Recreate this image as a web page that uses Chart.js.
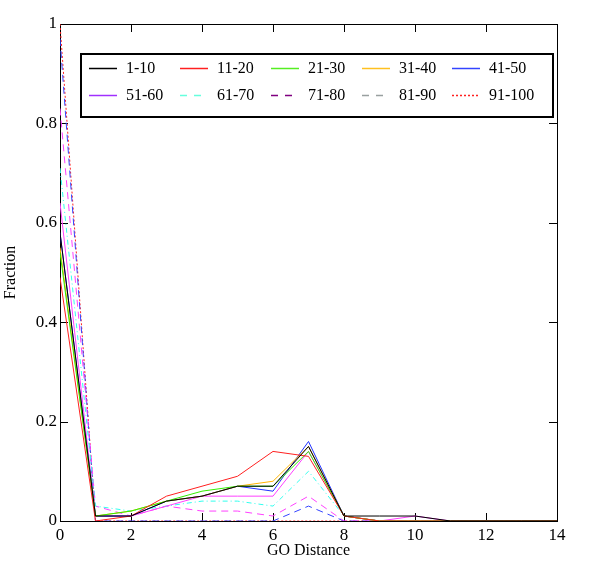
<!DOCTYPE html>
<html>
<head>
<meta charset="utf-8">
<script src="https://cdn.jsdelivr.net/npm/chart.js@4/dist/chart.umd.min.js"></script>
<style>
  html, body { margin: 0; padding: 0; background: #fff; }
</style>
</head>
<body>
<canvas id="goChart" width="600" height="573"></canvas>
<script>
var distances = [0, 1, 2, 3, 4, 5, 6, 7, 8, 9, 10, 11, 12, 13, 14];
var groupLabels = ["1-10", "11-20", "21-30", "31-40", "41-50", "51-60", "61-70", "71-80", "81-90", "91-100"];

var g1_10   = [0.58, 0.01, 0.01, 0.04, 0.05, 0.07, 0.07, 0.15, 0.01, 0.01, 0.01, 0, 0, 0, 0];
var g11_20  = [0.49, 0,    0.01, 0.05, 0.07, 0.09, 0.14, 0.13, 0.01, 0,    0,    0, 0, 0, 0];
var g21_30  = [0.54, 0.01, 0.02, 0.04, 0.06, 0.07, 0.07, 0.14, 0.01, 0,    0,    0, 0, 0, 0];
var g31_40  = [0.55, 0.01, 0.02, 0.04, 0.05, 0.07, 0.08, 0.15, 0.01, 0,    0,    0, 0, 0, 0];
var g41_50  = [0.58, 0.01, 0.01, 0.04, 0.05, 0.07, 0.06, 0.16, 0.01, 0,    0,    0, 0, 0, 0];
var g51_60  = [0.64, 0.01, 0.01, 0.03, 0.05, 0.05, 0.05, 0.14, 0.01, 0,    0.01, 0, 0, 0, 0];
var g61_70  = [0.71, 0.03, 0.02, 0.03, 0.04, 0.04, 0.03, 0.10, 0.01, 0,    0,    0, 0, 0, 0];
var g71_80  = [0.83, 0.03, 0.01, 0.03, 0.02, 0.02, 0.01, 0.05, 0,    0,    0,    0, 0, 0, 0];
var g81_90  = [0.97, 0,    0,    0,    0,    0,    0,    0.03, 0,    0,    0,    0, 0, 0, 0];
var g91_100 = [1.00, 0,    0,    0,    0,    0,    0,    0,    0,    0,    0,    0, 0, 0, 0];

var series = [g1_10, g11_20, g21_30, g31_40, g41_50, g51_60, g61_70, g71_80, g81_90, g91_100];

// colours the lines have in the plot, and the (different) colours of the legend keys
var lineColors   = ["#000000", "#ff2020", "#33ee00", "#ffb400", "#2233ff", "#ff40ff", "#30ffee", "#ff40ff", "#3344ff", "#ff2020"];
var legendColors = ["#000000", "#ff2020", "#55ee22", "#ffc020", "#3344ff", "#a030ff", "#66ffdd", "#800080", "#99a0a0", "#ff2020"];
var lineDashes   = [[], [], [], [], [], [], [5, 3, 1, 3], [7, 5], [7, 5], [2, 2]];

var serif = "'Liberation Serif', serif";

var datasets = series.map(function (vals, i) {
  return {
    label: groupLabels[i],
    data: vals.map(function (v, j) { return { x: distances[j], y: v }; }),
    borderColor: lineColors[i],
    borderWidth: 1,
    borderDash: lineDashes[i],
    pointRadius: 0,
    fill: false,
    tension: 0
  };
});

// box around the plot with inward ticks
var frame = {
  id: "frame",
  beforeDatasetsDraw: function (chart) {
    var a = chart.chartArea, ctx = chart.ctx;
    var xs = chart.scales.x, ys = chart.scales.y;
    ctx.save();
    ctx.strokeStyle = "#000";
    ctx.lineWidth = 1;
    ctx.strokeRect(Math.round(a.left) + 0.5, Math.round(a.top) + 0.5,
                   Math.round(a.right - a.left), Math.round(a.bottom - a.top));
    ctx.beginPath();
    xs.ticks.forEach(function (t) {
      if (t.value === xs.min || t.value === xs.max) return;
      var px = Math.round(xs.getPixelForValue(t.value)) + 0.5;
      ctx.moveTo(px, a.bottom); ctx.lineTo(px, a.bottom - 8);
      ctx.moveTo(px, a.top); ctx.lineTo(px, a.top + 8);
    });
    ys.ticks.forEach(function (t) {
      if (t.value === ys.min || t.value === ys.max) return;
      var py = Math.round(ys.getPixelForValue(t.value)) + 0.5;
      ctx.moveTo(a.left, py); ctx.lineTo(a.left + 8, py);
      ctx.moveTo(a.right, py); ctx.lineTo(a.right - 8, py);
    });
    ctx.stroke();
    ctx.restore();
  }
};

// boxed legend inside the plot, 5 columns x 2 rows
var boxLegend = {
  id: "boxLegend",
  afterDatasetsDraw: function (chart) {
    var ctx = chart.ctx;
    var colX = [89, 180, 271, 362, 452];
    var rowY = [68, 95];
    ctx.save();
    ctx.fillStyle = "#fff";
    ctx.fillRect(81, 54, 472, 63);
    ctx.lineWidth = 2;
    ctx.strokeStyle = "#000";
    ctx.strokeRect(81, 54, 472, 63);
    ctx.font = "16px " + serif;
    ctx.textBaseline = "middle";
    chart.data.datasets.forEach(function (ds, i) {
      var x = colX[i % 5], y = rowY[Math.floor(i / 5)];
      ctx.beginPath();
      ctx.lineWidth = 1.5;
      ctx.strokeStyle = legendColors[i];
      ctx.setLineDash(i >= 6 ? (i === 9 ? [2, 2] : [7, 7]) : []);
      ctx.moveTo(x, y + 0.5); ctx.lineTo(x + 28, y + 0.5);
      ctx.stroke();
      ctx.setLineDash([]);
      ctx.fillStyle = "#000";
      ctx.fillText(ds.label, x + 37, y + 1);
    });
    ctx.restore();
  }
};

new Chart(document.getElementById("goChart"), {
  type: "line",
  data: { datasets: datasets },
  plugins: [frame, boxLegend],
  options: {
    responsive: false,
    animation: false,
    devicePixelRatio: 1,
    layout: { padding: { top: 24, right: 43, left: 0, bottom: 0 } },
    plugins: {
      legend: { display: false },
      tooltip: { enabled: false }
    },
    scales: {
      x: {
        type: "linear",
        min: 0,
        max: 14,
        ticks: { stepSize: 2, color: "#000", padding: 4, font: { family: serif, size: 17 } },
        grid: { display: false, drawTicks: false },
        border: { display: false },
        title: { display: true, text: "GO Distance", color: "#000", font: { family: serif, size: 16 }, padding: { top: 0, bottom: 13 } },
        afterFit: function (scale) { scale.height = 52; }
      },
      y: {
        min: 0,
        max: 1,
        ticks: {
          stepSize: 0.2, color: "#000", padding: 3, font: { family: serif, size: 17 },
          callback: function (value) { return String(Math.round(value * 10) / 10); }
        },
        grid: { display: false, drawTicks: false },
        border: { display: false },
        title: { display: true, text: "Fraction", color: "#000", font: { family: serif, size: 16 }, padding: { top: 1, bottom: 0 } },
        afterFit: function (scale) { scale.width = 60; }
      }
    }
  }
});
</script>
</body>
</html>
